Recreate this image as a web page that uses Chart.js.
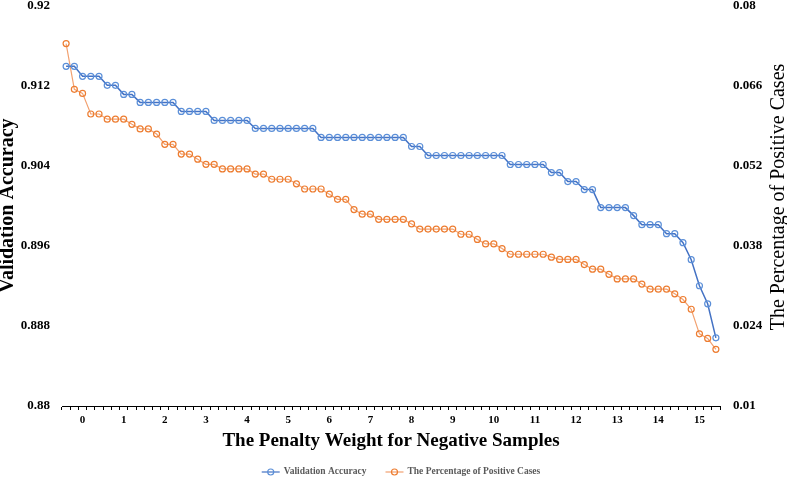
<!DOCTYPE html>
<html lang="en">
<head>
<meta charset="UTF-8">
<title>Penalty Weight for Negative Samples</title>
<style>
    body { margin: 0; background: #fff; }
    canvas { display: block; }
</style>
<script src="https://cdn.jsdelivr.net/npm/chart.js"></script>
</head>
<body>
<canvas id="chart" width="787" height="477"></canvas>
<script>
// penalty weight categories (step 0.2)
const weights = [
    -0.4, -0.2, 0, 0.2, 0.4, 0.6, 0.8, 1, 1.2, 1.4, 1.6, 1.8, 2, 2.2, 2.4, 2.6, 2.8, 3, 3.2, 3.4,
    3.6, 3.8, 4, 4.2, 4.4, 4.6, 4.8, 5, 5.2, 5.4, 5.6, 5.8, 6, 6.2, 6.4, 6.6, 6.8, 7, 7.2, 7.4,
    7.6, 7.8, 8, 8.2, 8.4, 8.6, 8.8, 9, 9.2, 9.4, 9.6, 9.8, 10, 10.2, 10.4, 10.6, 10.8, 11, 11.2, 11.4,
    11.6, 11.8, 12, 12.2, 12.4, 12.6, 12.8, 13, 13.2, 13.4, 13.6, 13.8, 14, 14.2, 14.4, 14.6, 14.8, 15, 15.2, 15.4
];

const accuracy = [
    0.9139, 0.9139, 0.9129, 0.9129, 0.9129, 0.9120, 0.9120, 0.9111, 0.9111, 0.9103,
    0.9103, 0.9103, 0.9103, 0.9103, 0.9094, 0.9094, 0.9094, 0.9094, 0.9085, 0.9085,
    0.9085, 0.9085, 0.9085, 0.9077, 0.9077, 0.9077, 0.9077, 0.9077, 0.9077, 0.9077,
    0.9077, 0.9068, 0.9068, 0.9068, 0.9068, 0.9068, 0.9068, 0.9068, 0.9068, 0.9068,
    0.9068, 0.9068, 0.9059, 0.9059, 0.9050, 0.9050, 0.9050, 0.9050, 0.9050, 0.9050,
    0.9050, 0.9050, 0.9050, 0.9050, 0.9041, 0.9041, 0.9041, 0.9041, 0.9041, 0.9033,
    0.9033, 0.9024, 0.9024, 0.9016, 0.9016, 0.8998, 0.8998, 0.8998, 0.8998, 0.8990,
    0.8981, 0.8981, 0.8981, 0.8972, 0.8972, 0.8963, 0.8946, 0.8920, 0.8902, 0.8868
];

const positivePct = [
    0.0733, 0.0653, 0.0646, 0.0610, 0.0610, 0.0601, 0.0601, 0.0601, 0.0592, 0.0584,
    0.0584, 0.0575, 0.0557, 0.0557, 0.0540, 0.0540, 0.0531, 0.0522, 0.0522, 0.0514,
    0.0514, 0.0514, 0.0514, 0.0505, 0.0505, 0.0496, 0.0496, 0.0496, 0.0488, 0.0479,
    0.0479, 0.0479, 0.0470, 0.0461, 0.0461, 0.0443, 0.0435, 0.0435, 0.0426, 0.0426,
    0.0426, 0.0426, 0.0418, 0.0409, 0.0409, 0.0409, 0.0409, 0.0409, 0.0400, 0.0400,
    0.0391, 0.0383, 0.0383, 0.0375, 0.0365, 0.0365, 0.0365, 0.0365, 0.0365, 0.0360,
    0.0356, 0.0356, 0.0356, 0.0347, 0.0339, 0.0339, 0.0330, 0.0322, 0.0322, 0.0322,
    0.0313, 0.0304, 0.0304, 0.0304, 0.0296, 0.0286, 0.0269, 0.0226, 0.0218, 0.0199
];

const serif = '"Liberation Serif", "Times New Roman", serif';
const rightTitle = 'The Percentage of Positive Cases';

// legend drawn like Excel: line with circle marker, centred under the axis title
// right axis title reads bottom-to-top, as in the source chart
const extras = {
    id: 'extras',
    afterDraw(chart) {
        const ctx = chart.ctx;
        ctx.save();
        ctx.font = 'bold 9.5px ' + serif;
        const items = chart.data.datasets.map(ds => ({ ds: ds, w: 22 + ctx.measureText(ds.label).width }));
        const gap = 19;
        const total = items.reduce((s, it) => s + it.w, 0) + gap * (items.length - 1);
        let x = 401 - total / 2;
        const y = 472;
        items.forEach(it => {
            ctx.strokeStyle = it.ds.borderColor;
            ctx.lineWidth = 1.2;
            ctx.beginPath(); ctx.moveTo(x, y); ctx.lineTo(x + 18, y); ctx.stroke();
            ctx.strokeStyle = it.ds.pointBorderColor;
            ctx.beginPath(); ctx.arc(x + 9, y, 3, 0, Math.PI * 2); ctx.stroke();
            ctx.fillStyle = '#595959';
            ctx.textBaseline = 'middle';
            ctx.textAlign = 'left';
            ctx.fillText(it.ds.label, x + 22, y);
            x += it.w + gap;
        });

        ctx.translate(779, 197);
        ctx.rotate(-Math.PI / 2);
        ctx.font = '20px ' + serif;
        ctx.fillStyle = '#000';
        ctx.textAlign = 'center';
        ctx.textBaseline = 'middle';
        ctx.fillText(rightTitle, 0, 0);
        ctx.restore();
    }
};

new Chart(document.getElementById('chart'), {
    type: 'line',
    data: {
        labels: weights,
        datasets: [{
            label: 'Validation Accuracy',
            data: accuracy,
            yAxisID: 'y',
            borderColor: '#4472C4',
            borderWidth: 1.5,
            pointBorderColor: '#5B8FD8',
            pointBackgroundColor: 'transparent',
            pointRadius: 3,
            pointBorderWidth: 1.2,
            tension: 0
        }, {
            label: 'The Percentage of Positive Cases',
            data: positivePct,
            yAxisID: 'y1',
            borderColor: '#F2A170',
            borderWidth: 1.2,
            pointBorderColor: '#ED7D31',
            pointBackgroundColor: 'transparent',
            pointRadius: 3,
            pointBorderWidth: 1.2,
            tension: 0
        }]
    },
    options: {
        responsive: false,
        animation: false,
        layout: { padding: { top: 5, left: 0, right: 0, bottom: 0 } },
        plugins: {
            legend: { display: false },
            tooltip: { enabled: false }
        },
        scales: {
            x: {
                offset: true,
                grid: {
                    offset: true,
                    drawOnChartArea: false,
                    drawTicks: true,
                    tickLength: 4,
                    color: '#000'
                },
                border: { display: true, color: '#000', width: 1 },
                ticks: {
                    autoSkip: false,
                    maxRotation: 0,
                    padding: 4,
                    color: '#000',
                    font: { family: serif, size: 11, weight: 'bold' },
                    callback: (v, i) => Number.isInteger(weights[i]) ? String(weights[i]) : ''
                },
                title: {
                    display: true,
                    text: 'The Penalty Weight for Negative Samples',
                    color: '#000',
                    font: { family: serif, size: 19, weight: 'bold' },
                    padding: { top: 0, bottom: 25 }
                },
                afterFit: s => { s.height = 71; s.paddingLeft = 0; s.paddingRight = 0; }
            },
            y: {
                position: 'left',
                min: 0.88,
                max: 0.92,
                grid: { display: false, drawTicks: false },
                border: { display: false },
                ticks: {
                    stepSize: 0.008,
                    padding: 12,
                    color: '#000',
                    font: { family: serif, size: 13, weight: 'bold' },
                    callback: v => String(parseFloat(v.toFixed(3)))
                },
                title: {
                    display: true,
                    text: 'Validation Accuracy',
                    color: '#000',
                    font: { family: serif, size: 20, weight: 'bold', lineHeight: 0.8 },
                    padding: 0
                },
                afterFit: s => { s.width = 62; s.paddingTop = 0; s.paddingBottom = 0; }
            },
            y1: {
                position: 'right',
                min: 0.01,
                max: 0.08,
                grid: { display: false, drawTicks: false },
                border: { display: false },
                ticks: {
                    stepSize: 0.014,
                    padding: 13,
                    color: '#000',
                    font: { family: serif, size: 13, weight: 'bold' },
                    callback: v => String(parseFloat(v.toFixed(3)))
                },
                afterFit: s => { s.width = 67; s.paddingTop = 0; s.paddingBottom = 0; }
            }
        }
    },
    plugins: [extras]
});
</script>
</body>
</html>
